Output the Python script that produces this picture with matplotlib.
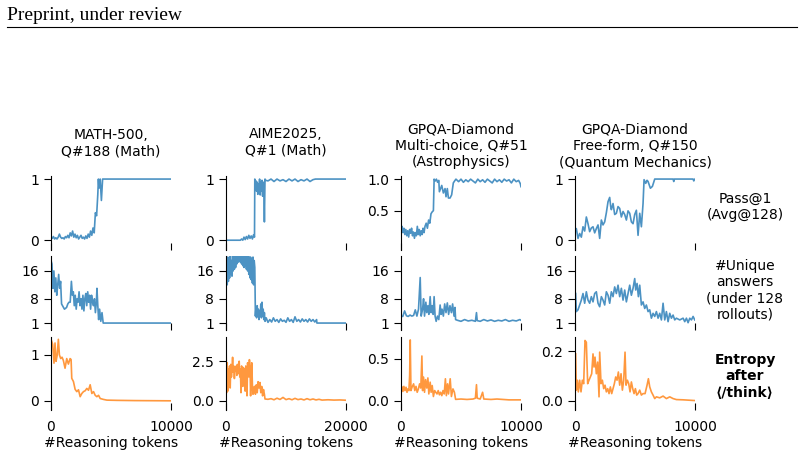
import matplotlib
matplotlib.use("Agg")
import matplotlib.pyplot as plt

# ---------------- data ----------------
titles = ["MATH-500,\nQ#188 (Math)", "AIME2025,\nQ#1 (Math)",
          "GPQA-Diamond\nMulti-choice, Q#51\n(Astrophysics)",
          "GPQA-Diamond\nFree-form, Q#150\n(Quantum Mechanics)"]
row_labels = ["Pass@1\n(Avg@128)", "#Unique\nanswers\n(under 128\nrollouts)", "Entropy\nafter\n\u27e8/think\u27e9"]
x_max = [10000, 20000, 10000, 10000]

# Column 1: MATH-500
c1_pass_x = [0, 100, 200, 300, 400, 500, 600, 700, 800, 900, 1000, 1100, 1200, 1300, 1400, 1500, 1600, 1700, 1800, 1900,
             2000, 2100, 2200, 2300, 2400, 2500, 2600, 2700, 2800, 2900, 3000, 3100, 3200, 3300, 3400, 3500, 3600, 3700,
             3800, 3900, 3950, 4000, 4100, 4200, 4300, 10000]
c1_pass_y = [0.05, 0.03, 0.06, 0.02, 0.04, 0.02, 0.05, 0.10, 0.05, 0.03, 0.04, 0.02, 0.06, 0.04, 0.08, 0.04, 0.12, 0.07,
             0.15, 0.05, 0.10, 0.04, 0.08, 0.02, 0.05, 0.08, 0.03, 0.05, 0.02, 0.07, 0.03, 0.10, 0.05, 0.15, 0.08, 0.20,
             0.12, 0.45, 0.40, 0.75, 1.0, 0.85, 1.0, 0.65, 1.0, 1.0]
c1_uniq_x = [0, 80, 160, 240, 320, 400, 480, 560, 640, 720, 800, 880, 960, 1040, 1120, 1200, 1300, 1400, 1500, 1600,
             1700, 1780, 1860, 1940, 2020, 2100, 2180, 2260, 2340, 2420, 2500, 2580, 2660, 2740, 2820, 2900, 2980, 3060,
             3140, 3220, 3300, 3380, 3460, 3540, 3620, 3700, 3780, 3830, 3900, 3970, 4050, 4150, 4250, 4350, 10000]
c1_uniq_y = [19, 18, 11, 16, 10, 14, 9, 12, 15, 11, 13, 6.5, 6, 5.5, 5, 5.2, 5.5, 6.5, 7, 7,
             13, 9, 10, 6, 9, 5, 8, 7, 10, 6, 8, 5, 9, 4.5, 8, 9.5, 6, 10,
             7, 9, 5, 9, 7, 6, 8, 4, 7, 11, 6, 2, 5, 1.5, 4, 1, 1]
c1_ent_x = [0, 140, 250, 335, 420, 520, 614, 700, 810, 920, 1030, 1170, 1310, 1450, 1590, 1674, 1730, 1870, 2010, 2150,
            2290, 2430, 2570, 2706, 2850, 2985, 3125, 3264, 3404, 3543, 3683, 3822, 3962, 4101, 4380, 4659, 5500, 7000,
            10000]
c1_ent_y = [1.34, 1.23, 0.82, 1.26, 0.86, 1.0, 1.34, 1.0, 0.92, 0.95, 0.88, 0.71, 0.92, 0.80, 0.92, 0.90, 0.49, 0.42,
            0.25, 0.20, 0.24, 0.09, 0.16, 0.20, 0.22, 0.27, 0.23, 0.35, 0.16, 0.20, 0.12, 0.09, 0.12, 0.05, 0.03, 0.015,
            0.01, 0.005, 0.0]

# Column 2: AIME2025
c2_pass_x = [0, 2400, 2600, 2800, 3000, 3200, 3400, 3600, 3800, 4000, 4200, 4400, 4600, 4750, 4800, 4900, 5000, 5100,
             5200, 5300, 5400, 5500, 5600, 5700, 5800, 5900, 6000, 6100, 6200, 6300, 6400, 6500, 6600, 7000, 7500, 8000,
             8500, 9000, 9500, 10000, 10500, 11000, 11500, 12000, 12500, 13000, 13500, 14000, 14500, 14900, 20000]
c2_pass_y = [0, 0, 0.02, 0.0, 0.05, 0.01, 0.06, 0.02, 0.08, 0.03, 0.07, 0.02, 0.09, 0.05, 1.0, 0.9, 0.97, 0.8,
             0.95, 0.75, 0.92, 0.85, 1.0, 0.74, 0.95, 0.80, 0.98, 0.72, 0.9, 0.95, 0.30, 1.0, 0.98, 0.97, 1.0, 0.96,
             1.0, 0.97, 0.99, 0.96, 1.0, 0.97, 1.0, 0.96, 0.99, 0.97, 1.0, 0.96, 0.99, 1.0, 1.0]
c2_uniq_x = [0, 100, 200, 300, 400, 500, 600, 700, 800, 900, 1000, 1100, 1200, 1300, 1400, 1500, 1600, 1700, 1800, 1900,
             2000, 2100, 2200, 2300, 2400, 2500, 2600, 2700, 2800, 2900, 3000, 3100, 3200, 3300, 3400, 3500, 3600, 3700,
             3800, 3900, 4000, 4100, 4200, 4300, 4400, 4500, 4600, 4700, 4800,
             4900, 5000, 5100, 5200, 5300, 5400, 5500, 5600, 5700, 5800, 5900, 6000, 6100, 6200, 6300, 6400, 6500,
             6700, 7000, 7300, 7600, 7900, 8200, 8500, 8800, 9100, 9400, 9700, 10000, 10300, 10600, 10900, 11200, 11500,
             11800, 12100, 12400, 12700, 13000, 13300, 13600, 13900, 14200, 14500, 14800, 15100, 15150, 20000]
c2_uniq_y = [11, 19, 12, 20, 13, 18, 14, 21, 15, 19, 14.5, 21, 16, 20, 16.5, 21, 17, 20, 18, 21,
             18.5, 21, 19, 21, 18.5, 21, 18, 20.5, 17.5, 21, 17, 20, 17.5, 21, 16.5, 20, 16, 21,
             15, 20, 14, 20, 13.5, 19.5, 12.5, 20, 12, 19, 17,
             3, 5.5, 2.5, 6, 3, 5, 2, 4.5, 3, 6.5, 2.5, 7, 3, 5, 2, 4, 1.5,
             2.5, 1.2, 2, 1.3, 2.5, 1.5, 2, 1.2, 2.2, 1.5, 1.8, 1.2, 2.5, 1.5, 2, 1.2, 2.8,
             1.5, 2, 1.3, 2.2, 1.5, 2, 1.3, 2.2, 1.5, 2, 1.3, 2, 1, 1]
c2_ent_x = [0, 100, 200, 300, 400, 500, 600, 700, 800, 900, 1000, 1100, 1200, 1300, 1400, 1500, 1600, 1700, 1800, 1900,
            2000, 2100, 2200, 2300, 2400, 2500, 2600, 2700, 2800, 2900, 3000, 3100, 3200, 3300, 3400, 3500, 3600, 3700,
            3800, 3900, 4000, 4100, 4200, 4300, 4400, 4500, 4600, 4750, 4900, 5050, 5200, 5350, 5500, 5650, 5800, 5950,
            6100, 6250, 6400, 6500, 7000, 7500, 8000, 8500, 9000, 9500, 10000, 10500, 11000, 11500, 12000, 12500, 13000,
            13500, 14000, 14500, 15000, 15500, 16000, 17000, 18000, 19000, 20000]
c2_ent_y = [3.95, 0.5, 2.4, 0.6, 2.0, 1.2, 2.2, 0.8, 2.3, 1.5, 2.0, 2.75, 1.8, 2.2, 1.4, 2.1, 1.9, 2.2, 1.6, 2.3,
            1.7, 2.1, 2.5, 1.5, 2.0, 0.5, 2.2, 1.8, 0.9, 2.1, 1.6, 2.0, 0.6, 2.2, 1.8, 0.3, 2.4, 1.9,
            1.5, 2.6, 2.2, 0.3, 1.5, 2.4, 1.0, 0.4, 0.6, 0.9, 0.4, 1.0, 0.5, 1.2, 0.8, 1.15, 0.5, 0.9,
            0.3, 0.7, 0.4, 0.1, 0.08, 0.12, 0.05, 0.15, 0.07, 0.2, 0.06, 0.12, 0.05, 0.14, 0.06, 0.1, 0.04,
            0.12, 0.05, 0.1, 0.04, 0.08, 0.03, 0.05, 0.03, 0.04, 0.02]

# Column 3: GPQA-Diamond multi-choice
c3_pass_x = [0, 80, 160, 240, 320, 400, 480, 560, 640, 720, 800, 880, 960, 1040, 1120, 1200, 1280, 1360, 1440, 1520,
             1600, 1680, 1760, 1840, 1920, 2000, 2100, 2200, 2300, 2400, 2500, 2600, 2700, 2760, 2850, 2950, 3050, 3150,
             3200, 3395, 3530, 3670, 3750, 3860, 3950, 4085, 4220, 4360, 4500, 4580, 4800, 5000, 5200, 5400, 5600, 5800,
             6000, 6200, 6400, 6600, 6800, 7000, 7200, 7400, 7600, 7800, 8000, 8200, 8400, 8600, 8800, 9000, 9200, 9400,
             9600, 9800, 9940, 10000]
c3_pass_y = [0.22, 0.25, 0.15, 0.22, 0.12, 0.2, 0.1, 0.18, 0.08, 0.2, 0.14, 0.22, 0.1, 0.16, 0.06, 0.15, 0.1, 0.25,
             0.12, 0.2, 0.1, 0.18, 0.12, 0.22, 0.15, 0.25, 0.3, 0.22, 0.35, 0.3, 0.45, 0.48, 0.5, 1.0, 0.97, 1.0, 0.95,
             0.98, 0.8, 0.9, 0.78, 0.85, 0.72, 0.85, 0.7, 0.7, 0.75, 0.94, 0.98, 1.0, 0.96, 1.0, 0.95, 0.99, 0.96, 1.0,
             0.97, 0.94, 1.0, 0.96, 0.99, 0.95, 1.0, 0.97, 0.94, 1.0, 0.96, 0.99, 0.95, 1.0, 0.97, 0.99, 0.94, 1.0,
             0.96, 0.98, 0.93, 0.88]
c3_uniq_x = [0, 150, 300, 450, 600, 750, 900, 1050, 1190, 1325, 1460, 1600, 1680, 1800, 1880, 1960, 2070, 2150, 2240,
             2320, 2430, 2510, 2600, 2680, 2760, 2840, 2930, 3040, 3150, 3260, 3340, 3420, 3530, 3640, 3750, 3860, 3970,
             4080, 4200, 4300, 4420, 4500, 4550, 4700, 5000, 5300, 5600, 5900, 6200, 6290, 6350, 6600, 6900, 7200, 7500,
             7800, 8100, 8400, 8700, 9000, 9300, 9600, 9900, 10000]
c3_uniq_y = [3, 2.9, 4.5, 3.1, 2.9, 3.3, 3, 3.2, 4.8, 3, 5, 14.1, 3, 5, 8, 3, 7, 4, 6,
             3.5, 8.6, 4, 6, 3.5, 8.6, 3, 1.5, 3, 2, 6.2, 3.5, 5, 3, 6.5, 4, 6.8, 3.5,
             6, 4, 6.5, 3, 5.5, 2, 1.8, 1.5, 2.0, 1.6, 1.8, 1.5, 4, 1.7, 1.5, 2, 1.6, 1.9,
             1.5, 1.8, 1.6, 2, 1.5, 1.8, 1.6, 2.0, 1.8]
c3_ent_x = [0, 80, 160, 240, 330, 420, 500, 580, 660, 720, 770, 830, 920, 1050, 1150, 1250, 1350, 1450, 1550, 1650,
            1740, 1800, 1880, 1960, 2050, 2150, 2240, 2320, 2430, 2510, 2600, 2700, 2800, 2900, 3000, 3100, 3200, 3300,
            3400, 3500, 3600, 3700, 3780, 3880, 3960, 4100, 4200, 4330, 4450, 4550, 5000, 5500, 6000, 6200, 6290, 6350,
            6600, 6800, 6900, 7500, 8000, 9000, 10000]
c3_ent_y = [0.13, 0.165, 0.11, 0.17, 0.12, 0.16, 0.1, 0.14, 0.12, 0.3, 0.72, 0.12, 0.16, 0.2, 0.12, 0.17, 0.1, 0.14,
            0.2, 0.15, 0.53, 0.12, 0.28, 0.1, 0.25, 0.15, 0.27, 0.08, 0.22, 0.1, 0.18, 0.05, 0.12, 0.1, 0.08, 0.12,
            0.07, 0.1, 0.06, 0.12, 0.08, 0.26, 0.06, 0.2, 0.08, 0.26, 0.05, 0.14, 0.1, 0.016, 0.02, 0.015, 0.02, 0.03,
            0.19, 0.03, 0.02, 0.1, 0.02, 0.015, 0.02, 0.01, 0.01]

# Column 4: GPQA-Diamond free-form
c4_pass_x = [0, 111, 250, 389, 528, 667, 806, 945, 1084, 1223, 1362, 1501, 1640, 1779, 1918, 2057, 2196, 2335, 2474,
             2613, 2752, 2891, 2975, 3030, 3169, 3308, 3447, 3586, 3725, 3864, 4003, 4142, 4281, 4420, 4559, 4698, 4837,
             4976, 5115, 5254, 5393, 5532, 5671, 5755, 5894, 6005, 6088, 6283, 6450, 6644, 8173, 8229, 8284, 9841,
             9897, 10000]
c4_pass_y = [0.16, 0.19, 0.03, 0.11, 0.05, 0.22, 0.15, 0.38, 0.27, 0.14, 0.2, 0.22, 0.12, 0.19, 0.25, 0.03, 0.33, 0.25,
             0.3, 0.45, 0.63, 0.7, 0.55, 0.5, 0.6, 0.42, 0.44, 0.55, 0.52, 0.38, 0.47, 0.42, 0.33, 0.48, 0.44, 0.3, 0.27,
             0.42, 0.49, 0.08, 0.44, 0.22, 0.6, 0.99, 0.93, 0.98, 0.96, 0.85, 0.88, 1.0, 1.0, 0.96, 1.0, 1.0,
             0.97, 1.0]
c4_uniq_x = [56, 111, 250, 389, 528, 667, 806, 945, 1084, 1223, 1362, 1501, 1640, 1779, 1918, 2057, 2196, 2335, 2474,
             2613, 2752, 2891, 3030, 3169, 3308, 3447, 3586, 3725, 3864, 4003, 4142, 4281, 4420, 4559, 4698, 4837, 4976,
             5060, 5171, 5282, 5393, 5532, 5671, 5810, 5949, 6088, 6227, 6366, 6505, 6644, 6783, 6922, 7061, 7200, 7339,
             7478, 7617, 7756, 7895, 8034, 8173, 8312, 8451, 8729, 9007, 9146, 9285, 9424, 9563, 9702, 9841, 9980]
c4_uniq_y = [9.5, 4.3, 4.8, 6.2, 7.6, 9.5, 6.7, 10, 7.6, 6.7, 8.6, 7.1, 9.5, 10, 6.7, 5.7, 8.6, 7.6, 6.2,
             10, 9, 6.7, 10, 8.6, 11.4, 9.5, 11.9, 8.6, 11, 7.6, 10.5, 7.1, 9.5, 11.9, 9, 11, 13.8,
             10.5, 12.4, 8.6, 11.9, 6.2, 7.1, 5.2, 6.2, 4.3, 4.8, 2.4, 3.8, 2.9, 4.3, 2.4, 3.8, 1.9, 6.7,
             1.9, 4.3, 1.4, 3.8, 2.4, 3.3, 1.9, 2.4, 1.9, 2.4, 1.4, 2.4, 1.1, 2.4, 1.9, 2.9, 1.9]
c4_ent_x = [56, 111, 195, 278, 389, 500, 612, 723, 834, 945, 1056, 1168, 1279, 1390, 1501, 1585, 1668, 1779, 1890, 2002,
            2057, 2168, 2280, 2391, 2502, 2613, 2724, 2836, 2947, 3058, 3169, 3280, 3392, 3503, 3614, 3725, 3836, 3948,
            4059, 4170, 4253, 4365, 4476, 4587, 4698, 4809, 4921, 5032, 5143, 5254, 5393, 5532, 5671, 5838, 6005, 6116,
            6227, 6366, 6505, 6644, 6783, 7061, 7339, 7617, 7895, 8173, 8451, 9007, 10000]
c4_ent_y = [0.189, 0.043, 0.083, 0.036, 0.083, 0.036, 0.083, 0.069, 0.243, 0.236, 0.069, 0.083, 0.096, 0.109, 0.189,
            0.136, 0.176, 0.109, 0.156, 0.016, 0.196, 0.069, 0.083, 0.049, 0.063, 0.036, 0.049, 0.029, 0.056, 0.029,
            0.049, 0.069, 0.096, 0.083, 0.116, 0.063, 0.109, 0.043, 0.083, 0.196, 0.063, 0.083, 0.069, 0.036, 0.076,
            0.049, 0.029, 0.049, 0.023, 0.029, 0.043, 0.023, 0.029, 0.029, 0.063, 0.089, 0.056, 0.036, 0.023, 0.009,
            0.016, 0.012, 0.019, 0.009, 0.016, 0.009, 0.005, 0.004, 0.001]

series = [
    [(c1_pass_x, c1_pass_y), (c1_uniq_x, c1_uniq_y), (c1_ent_x, c1_ent_y)],
    [(c2_pass_x, c2_pass_y), (c2_uniq_x, c2_uniq_y), (c2_ent_x, c2_ent_y)],
    [(c3_pass_x, c3_pass_y), (c3_uniq_x, c3_uniq_y), (c3_ent_x, c3_ent_y)],
    [(c4_pass_x, c4_pass_y), (c4_uniq_x, c4_uniq_y), (c4_ent_x, c4_ent_y)],
]
yticks = [
    [[0, 1], [1, 8, 16], [0, 1]],
    [[0, 1], [1, 8, 16], [0, 2.5]],
    [[0.5, 1.0], [1, 8, 16], [0, 0.5]],
    [[0, 1], [1, 8, 16], [0, 0.2]],
]
ylims = [
    [(-0.16, 1.05), (-1, 20.3), (-0.2, 1.39)],
    [(-0.16, 1.05), (-1, 20.3), (-0.6, 4.04)],
    [(-0.126, 1.05), (-1, 20.3), (-0.11, 0.755)],
    [(-0.16, 1.05), (-1, 20.3), (-0.037, 0.257)],
]

# ---------------- figure ----------------
W, H = 804, 459
fig = plt.figure(figsize=(W / 100, H / 100), dpi=100)
plt.rcParams["font.size"] = 10

def rect(l, t, w, h):
    return [l / W, 1 - (t + h) / H, w / W, h / H]

col_left = [51, 226, 401, 575]
row_top = [176, 256, 337]
row_h = [74, 74, 73]
ax_w = 120
colors = ["#1f77b4", "#1f77b4", "#ff7f0e"]

for c in range(4):
    for r in range(3):
        ax = fig.add_axes(rect(col_left[c], row_top[r], ax_w, row_h[r]))
        xs, ys = series[c][r]
        ax.plot(xs, ys, color=colors[r], alpha=0.8, lw=1.2)
        ax.set_xlim(0, x_max[c])
        ax.set_ylim(*ylims[c][r])
        ax.set_yticks(yticks[c][r])
        ax.set_xticks([0, x_max[c]])
        for s in ["top", "right", "bottom"]:
            ax.spines[s].set_visible(False)
        ax.tick_params(axis="x", direction="in", length=5, pad=7)
        ax.tick_params(axis="y", length=5)
        if r < 2:
            ax.set_xticklabels([])
        else:
            ax.set_xlabel("#Reasoning tokens", labelpad=1.5)

title_y = [143, 142.5, 146, 146]
for c in range(4):
    fig.text((col_left[c] + ax_w / 2) / W, 1 - title_y[c] / H, titles[c], ha="center", va="center", fontsize=10)

label_y = [207, 290.5, 376.5]
for r in range(3):
    fig.text(745 / W, 1 - label_y[r] / H, row_labels[r], ha="center", va="center", fontsize=10,
             fontweight="bold" if r == 2 else "normal")

# page header
fig.text(7 / W, 1 - 20 / H, "Preprint, under review", fontsize=14, family="Liberation Serif",
         ha="left", va="baseline")
fig.add_artist(plt.Line2D([7 / W, 797 / W], [1 - 27 / H, 1 - 27 / H], color="black", lw=0.8))

fig.savefig("out.png", dpi=100)
